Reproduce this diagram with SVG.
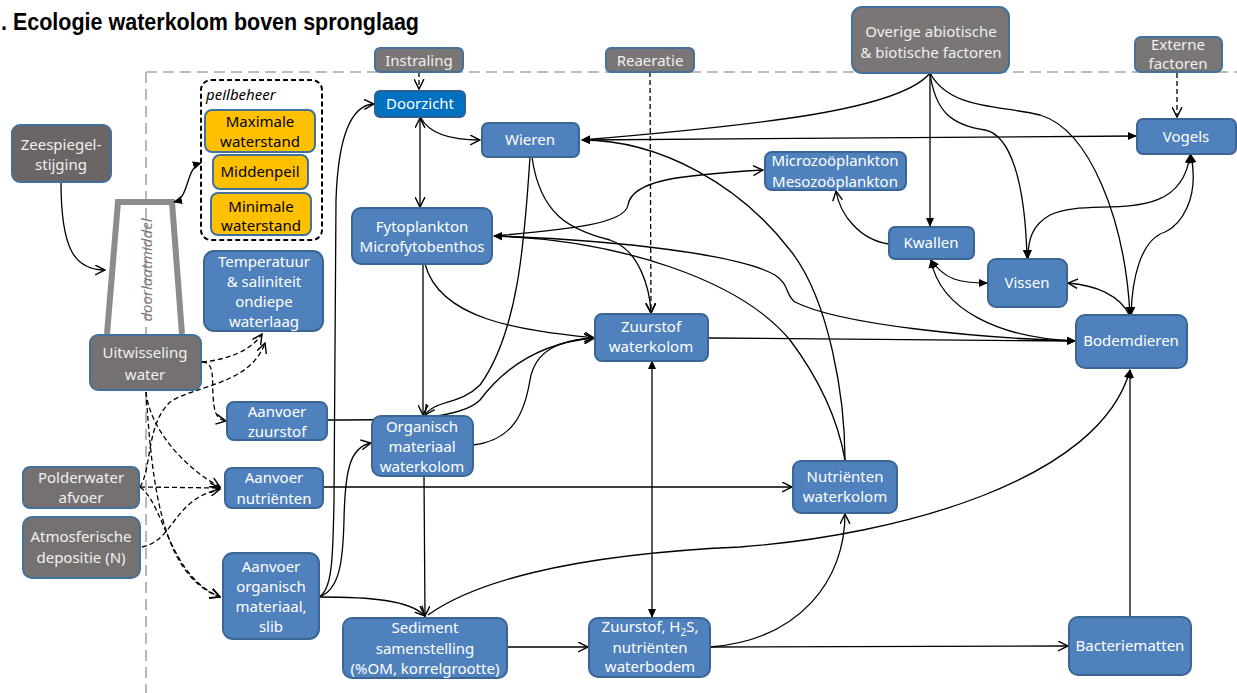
<svg xmlns="http://www.w3.org/2000/svg" width="1237" height="693" viewBox="0 0 1237 693">
<defs>
<marker id="af" viewBox="0 0 10 10" refX="9" refY="5" markerWidth="9" markerHeight="9" markerUnits="userSpaceOnUse" orient="auto-start-reverse"><path d="M0,0.5 L10,5 L0,9.5 Z" fill="#000"/></marker>
<marker id="ao" viewBox="0 0 10 10" refX="9" refY="5" markerWidth="11" markerHeight="11" markerUnits="userSpaceOnUse" orient="auto-start-reverse"><path d="M0,0.5 L9,5 L0,9.5" fill="none" stroke="#000" stroke-width="1.3"/></marker>
</defs>
<style>
.b{fill:#4f81bd;stroke:#3a6695;stroke-width:2}
.d{fill:#0070c0;stroke:#2f5f8f;stroke-width:2}
.g{fill:#757171;stroke:#41719c;stroke-width:2}
.o{fill:#ffc000;stroke:#41719c;stroke-width:2}
text{font-family:"Noto Sans","Liberation Sans",sans-serif;font-size:15px;text-anchor:middle}
.tw{fill:#fff}
.tg{fill:#f0f0f0}
.tk{fill:#000}
#conn path{fill:none;stroke:#000;stroke-width:1.3}
#conn .ds{stroke-dasharray:5 3}
</style>
<rect width="1237" height="693" fill="#fff"/>
<text x="1" y="30" style="font-family:'Liberation Sans',sans-serif;font-size:23px;font-weight:bold;text-anchor:start" textLength="418" lengthAdjust="spacingAndGlyphs">. Ecologie waterkolom boven spronglaag</text>
<g id="boundary" fill="none" stroke="#a6a6a6" stroke-width="1.6" stroke-dasharray="11 6">
<path d="M146,72 L1237,72"/>
<path d="M146,72 L146,693"/>
</g>
<g id="doorlaatmiddel">
<path d="M107,334 L118,202 L172,202 L182,334" fill="none" stroke="#8c8c8c" stroke-width="6"/>
<text transform="translate(152,270) rotate(-90)" style="font-style:italic;fill:#7a7a7a;font-size:15px">doorlaatmiddel</text>
</g>
<g id="conn">
<path class="ds" d="M419,72 L419,89" marker-end="url(#ao)"/>
<path class="ds" d="M650,72 L651,313" marker-end="url(#ao)"/>
<path class="ds" d="M1177,73 L1177,117" marker-end="url(#ao)"/>
<path class="ds" d="M202,362 C225,360 250,352 262,334" marker-end="url(#ao)"/>
<path class="ds" d="M140,487 C152,468 146,425 170,402 C195,385 250,385 265,343" marker-end="url(#ao)"/>
<path class="ds" d="M202,362 C215,362 212,380 213,395 C214,410 215,419 226,421" marker-end="url(#ao)"/>
<path class="ds" d="M146,392 C150,430 185,468 220,487" marker-end="url(#ao)"/>
<path class="ds" d="M146,392 C152,480 160,575 220,597" marker-end="url(#ao)"/>
<path class="ds" d="M140,487 L220,488" marker-end="url(#ao)"/>
<path class="ds" d="M142,547 C175,540 172,500 220,489" marker-end="url(#ao)"/>
<path class="ds" d="M140,487 C165,505 168,575 220,597" marker-end="url(#ao)"/>
<path d="M61,182 C61,250 75,270 105,270" marker-end="url(#ao)"/>
<path d="M174,202 C190,198 185,168 201,163" marker-start="url(#af)" marker-end="url(#af)"/>
<path d="M420,118 L420,207" marker-start="url(#ao)" marker-end="url(#ao)"/>
<path d="M421,118 C430,135 455,140 480,140" marker-end="url(#ao)"/>
<path d="M319,597 C332,590 333,560 334,500 L336,200 C338,140 350,105 374,104" marker-end="url(#ao)"/>
<path d="M319,597 C340,590 343,560 344,520 C345,470 350,447 371,443" marker-end="url(#ao)"/>
<path d="M319,597 C370,597 410,600 425,616" marker-end="url(#ao)"/>
<path d="M424,476 L425,616" marker-end="url(#ao)"/>
<path d="M423,264 L423,415" marker-end="url(#ao)"/>
<path d="M530,157 C525,230 520,330 480,385 C460,405 435,400 425,415" marker-end="url(#ao)"/>
<path d="M532,157 C540,215 570,230 610,240 C640,250 650,290 651,313" marker-end="url(#ao)"/>
<path d="M425,264 C440,320 520,330 594,338" marker-end="url(#ao)"/>
<path d="M327,420 C400,420 460,420 480,400 C510,360 550,342 594,338" marker-end="url(#ao)"/>
<path d="M473,445 C515,440 525,410 530,380 C535,350 560,340 594,338" marker-end="url(#ao)"/>
<path d="M652,361 L652,617" marker-start="url(#af)" marker-end="url(#af)"/>
<path d="M708,338 L1075,341" marker-end="url(#af)"/>
<path d="M507,647 L588,647" marker-end="url(#ao)"/>
<path d="M710,647 L1068,646" marker-end="url(#ao)"/>
<path d="M710,647 C800,640 845,580 845,514" marker-end="url(#ao)"/>
<path d="M323,487 L792,487" marker-end="url(#ao)"/>
<path d="M845,460 C845,400 830,300 790,250 C740,185 660,140 582,140" marker-end="url(#af)"/>
<path d="M845,460 C838,420 820,380 790,340 C740,280 620,240 494,236" marker-end="url(#af)"/>
<path d="M494,236 C560,230 625,225 628,205 C632,180 680,175 763,170" marker-end="url(#ao)"/>
<path d="M494,236 C620,240 740,255 775,275 C790,285 785,295 795,302 C840,325 980,338 1075,341" marker-start="url(#af)" marker-end="url(#af)"/>
<path d="M930,73 C900,110 760,125 582,140" marker-end="url(#af)"/>
<path d="M582,140 L1136,136" marker-start="url(#af)" marker-end="url(#af)"/>
<path d="M930,73 L930,226" marker-end="url(#af)"/>
<path d="M930,73 C935,110 950,125 985,130 C1010,135 1025,180 1027,258" marker-end="url(#af)"/>
<path d="M930,73 C950,110 1000,105 1040,115 C1090,130 1125,220 1130,315" marker-end="url(#af)"/>
<path d="M1190,155 C1180,230 1090,195 1050,215 C1032,225 1028,240 1028,258" marker-start="url(#af)" marker-end="url(#af)"/>
<path d="M1191,155 C1200,200 1180,225 1165,232 C1140,240 1132,280 1131,315" marker-start="url(#af)" marker-end="url(#af)"/>
<path d="M931,260 C945,280 960,283 987,283" marker-start="url(#af)" marker-end="url(#af)"/>
<path d="M931,260 C940,310 1000,338 1075,341" marker-start="url(#af)" marker-end="url(#af)"/>
<path d="M889,244 C860,240 840,215 836,191" marker-end="url(#ao)"/>
<path d="M1130,316 C1120,295 1095,285 1068,283" marker-end="url(#ao)"/>
<path d="M1130,617 L1130,370" marker-end="url(#af)"/>
<path d="M428,615 C470,585 560,555 740,547 C900,535 1100,480 1130,370" marker-end="url(#af)"/>
</g>
<g id="zeespiegel"><rect class="g" x="12" y="125" width="99" height="57" rx="8" style="fill:#6b6665"/><text class="tg" x="61" y="150">Zeespiegel-</text><text class="tg" x="61" y="170">stijging</text></g>
<g id="uitwisseling"><rect class="g" x="90" y="335" width="111" height="55" rx="8"/><text class="tg" x="145" y="358">Uitwisseling</text><text class="tg" x="145" y="380">water</text></g>
<g id="peilbeheer"><rect x="201" y="80" width="121" height="160" rx="10" fill="none" stroke="#000" stroke-width="2" stroke-dasharray="5 3"/><text class="tk" x="206" y="100" style="text-anchor:start;font-style:italic">peilbeheer</text></g>
<g id="maximale"><rect class="o" x="205" y="110" width="110" height="42" rx="7"/><text class="tk" x="260" y="127">Maximale</text><text class="tk" x="260" y="147">waterstand</text></g>
<g id="middenpeil"><rect class="o" x="213" y="155" width="95" height="34" rx="7"/><text class="tk" x="260" y="177">Middenpeil</text></g>
<g id="minimale"><rect class="o" x="211" y="193" width="100" height="42" rx="7"/><text class="tk" x="261" y="212">Minimale</text><text class="tk" x="261" y="231">waterstand</text></g>
<g id="temperatuur"><rect class="b" x="204" y="251" width="119" height="80" rx="10"/><text class="tw" x="264" y="267">Temperatuur</text><text class="tw" x="264" y="287">&amp; saliniteit</text><text class="tw" x="264" y="307">ondiepe</text><text class="tw" x="264" y="327">waterlaag</text></g>
<g id="aanvoer-zuurstof"><rect class="b" x="227" y="402" width="100" height="38" rx="7"/><text class="tw" x="277" y="417">Aanvoer</text><text class="tw" x="277" y="437">zuurstof</text></g>
<g id="aanvoer-nutrienten"><rect class="b" x="225" y="468" width="98" height="40" rx="7"/><text class="tw" x="274" y="483">Aanvoer</text><text class="tw" x="274" y="504">nutriënten</text></g>
<g id="polderwater"><rect class="g" x="23" y="467" width="116" height="41" rx="7"/><text class="tg" x="81" y="483">Polderwater</text><text class="tg" x="81" y="503">afvoer</text></g>
<g id="atmosferisch"><rect class="g" x="23" y="517" width="117" height="61" rx="9"/><text class="tg" x="81" y="542">Atmosferische</text><text class="tg" x="81" y="563">depositie (N)</text></g>
<g id="aanvoer-organisch"><rect class="b" x="223" y="553" width="96" height="86" rx="10"/><text class="tw" x="271" y="572">Aanvoer</text><text class="tw" x="271" y="592">organisch</text><text class="tw" x="271" y="612">materiaal,</text><text class="tw" x="271" y="632">slib</text></g>
<g id="instraling"><rect class="g" x="375" y="48" width="88" height="24" rx="5" style="fill:#7a7676"/><text class="tg" x="419" y="66">Instraling</text></g>
<g id="doorzicht"><rect class="d" x="375" y="91" width="90" height="26" rx="5"/><text class="tw" x="420" y="109">Doorzicht</text></g>
<g id="wieren"><rect class="b" x="482" y="123" width="97" height="34" rx="6"/><text class="tw" x="530" y="145">Wieren</text></g>
<g id="fytoplankton"><rect class="b" x="352" y="208" width="140" height="56" rx="9"/><text class="tw" x="422" y="232">Fytoplankton</text><text class="tw" x="422" y="252">Microfytobenthos</text></g>
<g id="reaeratie"><rect class="g" x="606" y="48" width="88" height="24" rx="5" style="fill:#7a7676"/><text class="tg" x="650" y="66">Reaeratie</text></g>
<g id="zuurstof-waterkolom"><rect class="b" x="595" y="314" width="113" height="47" rx="7"/><text class="tw" x="651" y="332">Zuurstof</text><text class="tw" x="651" y="352">waterkolom</text></g>
<g id="organisch-materiaal"><rect class="b" x="372" y="416" width="101" height="60" rx="9"/><text class="tw" x="422" y="432">Organisch</text><text class="tw" x="422" y="452">materiaal</text><text class="tw" x="422" y="472">waterkolom</text></g>
<g id="sediment"><rect class="b" x="343" y="618" width="164" height="60" rx="9"/><text class="tw" x="425" y="633">Sediment</text><text class="tw" x="425" y="654">samenstelling</text><text class="tw" x="425" y="674">(%OM, korrelgrootte)</text></g>
<g id="waterbodem"><rect class="b" x="589" y="618" width="121" height="59" rx="9"/><text class="tw" x="650" y="632">Zuurstof, H<tspan dy="4" style="font-size:10px">2</tspan><tspan dy="-4">S,</tspan></text><text class="tw" x="650" y="653">nutriënten</text><text class="tw" x="650" y="672">waterbodem</text></g>
<g id="nutrienten-waterkolom"><rect class="b" x="793" y="461" width="104" height="52" rx="8"/><text class="tw" x="845" y="482">Nutriënten</text><text class="tw" x="845" y="502">waterkolom</text></g>
<g id="microzooplankton"><rect class="b" x="765" y="152" width="141" height="38" rx="7"/><text class="tw" x="835" y="166">Microzoöplankton</text><text class="tw" x="835" y="187">Mesozoöplankton</text></g>
<g id="overige"><rect class="g" x="852" y="7" width="157" height="66" rx="10" style="fill:#7a7676"/><text class="tg" x="931" y="37">Overige abiotische</text><text class="tg" x="931" y="58">&amp; biotische factoren</text></g>
<g id="externe"><rect class="g" x="1135" y="37" width="87" height="35" rx="6" style="fill:#7a7676"/><text class="tg" x="1178" y="50">Externe</text><text class="tg" x="1178" y="69">factoren</text></g>
<g id="vogels"><rect class="b" x="1137" y="119" width="99" height="35" rx="6"/><text class="tw" x="1186" y="142">Vogels</text></g>
<g id="kwallen"><rect class="b" x="889" y="227" width="85" height="32" rx="6"/><text class="tw" x="931" y="248">Kwallen</text></g>
<g id="vissen"><rect class="b" x="988" y="259" width="79" height="48" rx="8"/><text class="tw" x="1027" y="288">Vissen</text></g>
<g id="bodemdieren"><rect class="b" x="1076" y="315" width="111" height="53" rx="9"/><text class="tw" x="1131" y="346">Bodemdieren</text></g>
<g id="bacteriematten"><rect class="b" x="1069" y="617" width="122" height="58" rx="9"/><text class="tw" x="1130" y="651">Bacteriematten</text></g>
</svg>
